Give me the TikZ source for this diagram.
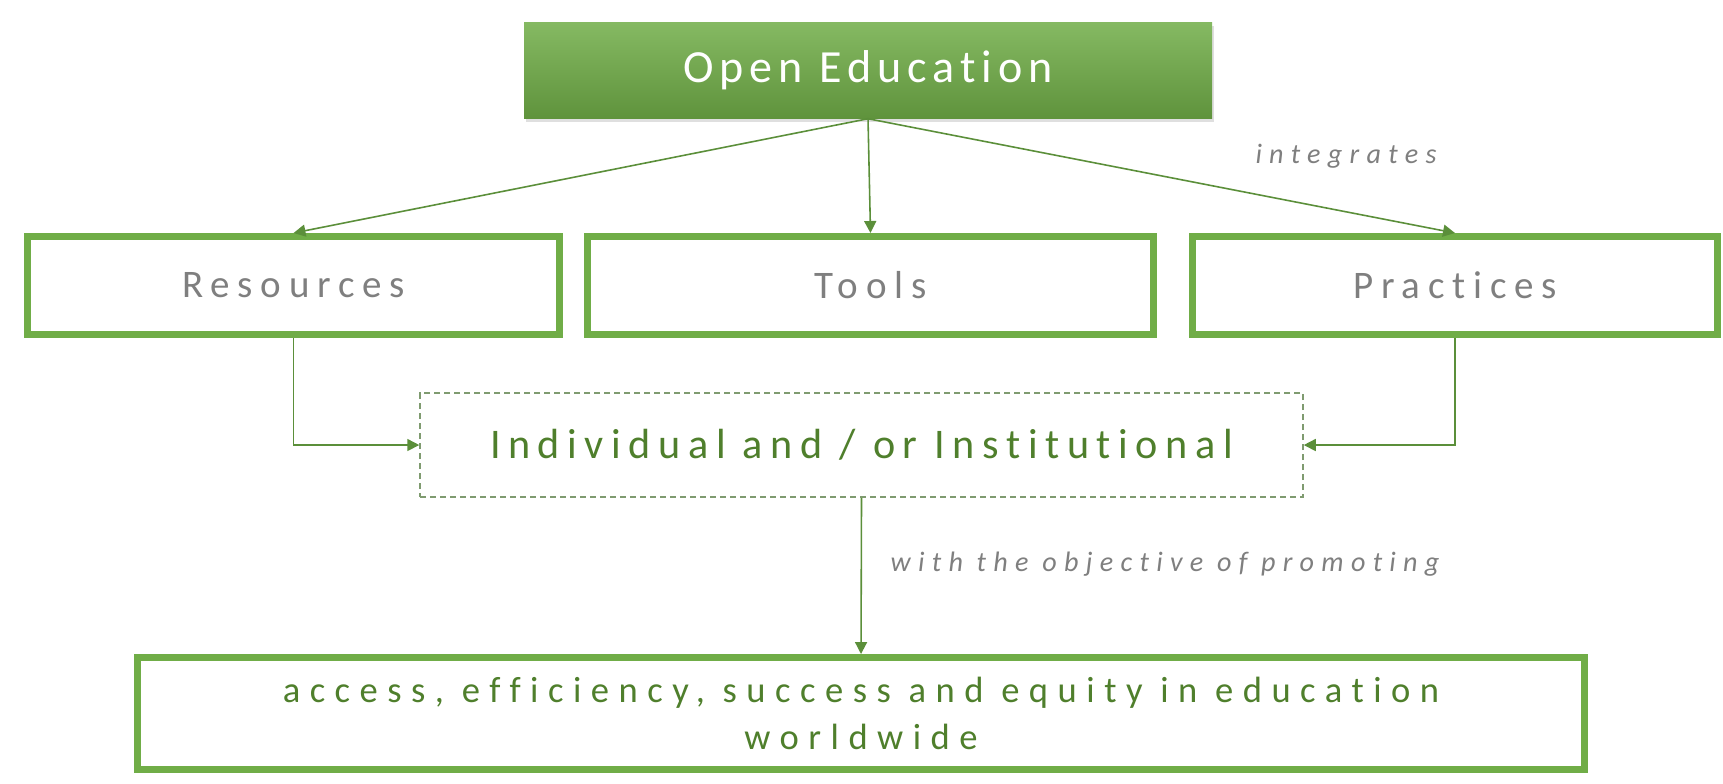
\documentclass[tikz,border=0pt]{standalone}
\usepackage{fontspec}
\setmainfont{Carlito}[Ligatures={NoCommon}]
\usetikzlibrary{positioning, arrows.meta, shadows}

\definecolor{boxgreen}{HTML}{70AD47}
\definecolor{linkgreen}{HTML}{5B8F3A}
\definecolor{dashgreen}{HTML}{7F9B70}
\definecolor{darkgreen}{HTML}{4F7F2C}
\definecolor{textgray}{HTML}{7F7F7F}

\tikzset{
	link/.style={draw=linkgreen, line width=0.45pt, -{Triangle[length=1.2mm, width=1.2mm]}}, % the connectors
	headbox/.style={top color=boxgreen!85!white, bottom color=boxgreen!85!black, text=white,
		minimum width=68.8mm, minimum height=9.6mm,
		drop shadow={opacity=0.25, shadow xshift=0.15mm, shadow yshift=-0.4mm},
		font=\fontsize{13.1}{15}\selectfont\addfontfeature{LetterSpace=13}}, % the top box
	itembox/.style={draw=boxgreen, line width=0.7mm, minimum height=9.8mm, text=textgray,
		font=\fontsize{11.1}{13}\selectfont\addfontfeature{LetterSpace=20}}, % resources, tools, practices
	joinbox/.style={draw=dashgreen, line width=0.15mm, dash pattern=on 0.6mm off 0.4mm,
		minimum width=88.3mm, minimum height=10.4mm, text=darkgreen,
		font=\fontsize{12}{14}\selectfont\addfontfeature{LetterSpace=18}}, % the dashed box
	goalbox/.style={draw=boxgreen, line width=0.7mm, minimum width=144.7mm, minimum height=11.2mm,
		text=darkgreen, align=center,
		font=\fontsize{10.4}{13.4}\selectfont\addfontfeature{LetterSpace=26}}, % the bottom box
	note/.style={text=textgray, inner sep=0pt,
		font=\fontsize{8}{10}\selectfont\itshape\addfontfeature{LetterSpace=26}}, % labels on the connectors
}

\begin{document}
\begin{tikzpicture}[x=0.1mm, y=-0.1mm]
	\path[use as bounding box, fill=white] (0,0) rectangle (1723,783);

	\node[headbox] (open_education) at (868,70) {Open Education};
	\node[itembox, minimum width=53.2mm] (resources) at (293.5,285.5) {Resources};
	\node[itembox, minimum width=56.6mm, right=2.1mm of resources] (tools) {Tools};
	\node[itembox, minimum width=52.5mm, right=3.2mm of tools] (practices) {Practices};
	\node[joinbox] (individual) at (861.5,445) {Individual and / or Institutional};
	\node[goalbox] (goal) at (861,713.5) {access, efficiency, success and equity in education\\worldwide};

	\node[note] (integrates) at (1346,156) {integrates};
	\node[note, anchor=west] (objective) at (890,564) {with the objective of promoting};

	\draw[link] (open_education.south) -- (resources.north);
	\draw[link] (open_education.south) -- (tools.north);
	\draw[link] (open_education.south) -- (practices.north);
	\draw[link] (resources.south) |- (individual.west);
	\draw[link] (practices.south) |- (individual.east);
	\draw[link] (individual.south) -- (goal.north);
\end{tikzpicture}
\end{document}
